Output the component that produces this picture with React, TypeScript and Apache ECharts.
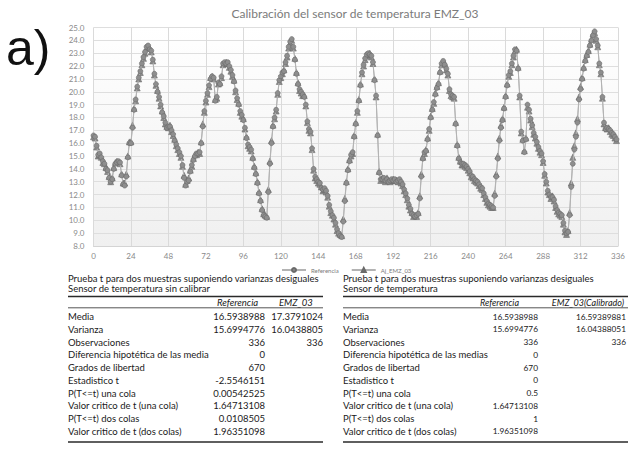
import React, { useEffect, useRef } from "react";
import * as echarts from "echarts";

// Hourly readings (h = 0 … 335)
const referencia: number[] = [
  16.6, 16.5, 15.8, 15.1, 15.2, 14.9, 14.6, 14.4, 14.0, 13.9, 13.3, 13.0, 13.2, 14.0, 14.4, 14.5, 14.6, 14.5, 13.5, 12.8, 12.7, 13.4, 14.9, 16.0,
  16.0, 17.2, 18.6, 19.4, 20.4, 21.1, 21.6, 22.2, 22.7, 23.1, 23.5, 23.6, 23.3, 23.2, 22.5, 21.4, 20.6, 20.0, 19.6, 19.0, 18.4, 18.1, 17.6, 17.2,
  17.3, 17.3, 17.0, 16.7, 16.2, 15.9, 15.6, 15.3, 15.0, 14.3, 13.3, 12.7, 13.0, 13.1, 13.8, 14.3, 14.7, 15.0, 15.2, 15.2, 15.3, 16.0, 17.3, 18.5,
  19.3, 19.9, 20.5, 21.0, 21.2, 21.1, 19.3, 19.6, 20.7, 20.6, 21.2, 22.2, 22.3, 22.2, 22.3, 22.0, 21.7, 21.3, 20.8, 20.1, 19.5, 19.0, 18.5, 18.2,
  17.8, 17.2, 16.4, 15.9, 15.7, 15.5, 14.8, 14.1, 13.6, 12.9, 12.1, 11.5, 10.8, 10.4, 10.3, 10.2, 12.2, 14.4, 16.0, 17.3, 18.0, 18.6, 19.9, 20.9,
  21.2, 21.5, 21.6, 22.3, 22.8, 23.5, 23.9, 24.1, 23.5, 22.5, 21.4, 20.6, 20.2, 20.0, 19.8, 19.6, 19.0, 17.7, 17.1, 16.9, 15.6, 14.0, 13.4, 13.2,
  13.0, 12.9, 12.5, 12.4, 12.5, 12.3, 11.9, 11.2, 10.7, 10.4, 10.2, 9.8, 9.3, 9.0, 8.8, 8.7, 9.9, 11.5, 12.9, 13.9, 14.6, 15.1, 15.3, 16.5,
  17.5, 18.5, 19.3, 20.5, 21.5, 22.1, 22.6, 22.9, 23.0, 22.9, 22.8, 22.3, 20.9, 19.7, 16.6, 13.7, 13.2, 13.2, 13.3, 13.1, 13.2, 13.0, 13.1, 13.2,
  13.1, 13.2, 13.0, 13.1, 13.2, 13.0, 12.8, 12.4, 12.1, 11.7, 11.2, 10.9, 10.5, 10.4, 10.3, 10.4, 10.5, 11.7, 13.4, 14.8, 15.3, 15.4, 16.3, 17.1,
  18.0, 18.6, 19.2, 19.8, 20.3, 20.6, 21.5, 22.2, 22.4, 22.1, 21.8, 21.4, 20.2, 19.8, 19.7, 19.6, 17.5, 15.8, 14.8, 14.5, 14.4, 14.4, 14.3, 14.2,
  14.0, 13.8, 13.5, 13.4, 13.2, 13.1, 13.0, 12.8, 12.6, 12.5, 12.1, 11.8, 11.5, 11.3, 11.2, 11.1, 11.0, 11.9, 13.4, 14.8, 16.2, 17.2, 17.8, 18.7,
  19.6, 20.5, 21.3, 21.6, 22.2, 22.8, 23.3, 23.2, 21.8, 19.7, 16.9, 16.2, 15.3, 16.3, 19.0, 18.6, 17.9, 17.4, 16.8, 16.5, 16.1, 15.7, 15.4, 15.2,
  14.6, 13.6, 13.0, 12.3, 12.0, 11.8, 11.8, 11.6, 11.1, 10.8, 10.6, 10.5, 10.4, 9.8, 9.2, 9.0, 9.1, 10.4, 12.6, 14.4, 15.5, 16.5, 17.6, 19.4,
  20.2, 21.0, 21.8, 22.4, 22.8, 23.1, 23.6, 24.0, 24.4, 24.7, 24.1, 23.6, 22.2, 21.5, 19.6, 17.6, 17.1, 17.2, 17.1, 17.0, 16.8, 16.7, 16.5, 16.3,
];

const ajEmz03: number[] = [
  16.5, 16.4, 15.7, 15.0, 15.1, 14.9, 14.5, 14.4, 14.1, 13.8, 13.4, 13.0, 13.3, 14.1, 14.5, 14.6, 14.5, 14.4, 13.6, 12.9, 12.9, 13.6, 15.0, 16.1,
  16.1, 17.4, 18.7, 19.3, 20.3, 21.0, 21.5, 22.1, 22.6, 23.0, 23.4, 23.5, 23.4, 23.1, 22.4, 21.3, 20.5, 20.1, 19.5, 18.9, 18.5, 18.0, 17.5, 17.3,
  17.2, 17.4, 16.9, 16.6, 16.3, 15.8, 15.5, 15.2, 14.9, 14.2, 13.5, 12.8, 13.1, 13.3, 13.9, 14.2, 14.8, 15.1, 15.1, 15.3, 15.2, 16.1, 17.5, 18.4,
  19.2, 19.8, 20.4, 21.1, 21.2, 21.0, 19.4, 19.5, 20.6, 20.7, 21.1, 22.1, 22.2, 22.3, 22.2, 21.9, 21.6, 21.2, 20.9, 20.0, 19.4, 19.1, 18.4, 18.1,
  17.9, 17.1, 16.5, 15.8, 15.6, 15.4, 14.9, 14.2, 13.7, 13.0, 12.2, 11.6, 10.9, 10.5, 10.4, 10.3, 12.4, 14.6, 16.2, 17.4, 17.9, 18.5, 19.8, 20.8,
  21.1, 21.4, 21.7, 22.2, 22.7, 23.4, 23.8, 24.0, 23.4, 22.6, 21.5, 20.7, 20.1, 19.9, 19.7, 19.7, 18.9, 17.6, 17.0, 16.8, 15.5, 13.9, 13.3, 13.1,
  12.9, 12.8, 12.6, 12.3, 12.4, 12.2, 11.8, 11.1, 10.6, 10.4, 10.1, 9.7, 9.2, 9.0, 8.9, 8.8, 10.1, 11.7, 13.0, 14.0, 14.7, 15.0, 15.2, 16.6,
  17.6, 18.4, 19.4, 20.6, 21.4, 22.0, 22.5, 22.8, 22.9, 23.0, 22.7, 22.2, 21.0, 19.6, 16.7, 13.8, 13.1, 13.3, 13.2, 13.0, 13.3, 13.1, 13.0, 13.1,
  13.2, 13.1, 13.1, 13.0, 13.1, 12.9, 12.7, 12.3, 12.0, 11.6, 11.1, 10.8, 10.6, 10.3, 10.4, 10.3, 10.6, 11.9, 13.6, 14.9, 15.2, 15.5, 16.4, 17.0,
  18.1, 18.7, 19.1, 19.9, 20.4, 20.7, 21.6, 22.1, 22.3, 22.2, 21.7, 21.3, 20.1, 19.7, 19.6, 19.5, 17.6, 15.9, 14.9, 14.6, 14.3, 14.3, 14.2, 14.1,
  13.9, 13.7, 13.4, 13.3, 13.1, 13.0, 12.9, 12.7, 12.5, 12.4, 12.0, 11.7, 11.4, 11.2, 11.1, 11.0, 11.0, 12.1, 13.6, 15.0, 16.4, 17.4, 17.9, 18.8,
  19.7, 20.6, 21.2, 21.5, 22.1, 22.7, 23.2, 23.3, 21.9, 19.6, 16.8, 16.3, 15.4, 16.4, 18.8, 18.5, 17.8, 17.3, 16.7, 16.4, 16.0, 15.6, 15.3, 15.1,
  14.5, 13.5, 12.9, 12.2, 12.0, 11.7, 11.9, 11.5, 11.0, 10.7, 10.5, 10.4, 10.3, 9.7, 9.1, 8.9, 9.2, 10.6, 12.9, 14.9, 15.8, 16.8, 17.9, 19.6,
  20.4, 21.1, 21.9, 22.5, 22.9, 23.2, 23.7, 24.1, 24.5, 24.6, 24.0, 23.5, 22.1, 21.4, 19.5, 17.5, 17.2, 17.1, 17.2, 16.9, 16.7, 16.6, 16.4, 16.2,
];

const seriesNames = ["Referencia", "Aj_EMZ_03"];
const chartTitle = "Calibración del sensor de temperatura EMZ_03";
const panelLabel = "a)";
const xAxisRange = { min: 0, max: 336, interval: 24 };
const yAxisRange = { min: 8, max: 25, interval: 1 };

// Tables
const tableTitle = "Prueba t para dos muestras suponiendo varianzas desiguales";
const leftSubtitle = "Sensor de temperatura sin calibrar";
const rightSubtitle = "Sensor de temperatura";
const leftHeaders = ["Referencia", "EMZ_03"];
const rightHeaders = ["Referencia", "EMZ_03(Calibrado)"];
const leftRowLabels = [
  "Media", "Varianza", "Observaciones", "Diferencia hipotética de las media", "Grados de libertad",
  "Estadistico t", "P(T<=t) una cola", "Valor critico de t (una cola)", "P(T<=t) dos colas", "Valor critico de t (dos colas)",
];
const rightRowLabels = [
  "Media", "Varianza", "Observaciones", "Diferencia hipotética de las medias", "Grados de libertad",
  "Estadistico t", "P(T<=t) una cola", "Valor critico de t (una cola)", "P(T<=t) dos colas", "Valor critico de t (dos colas)",
];
const leftRefValues = ["16.5938988", "15.6994776", "336", "0", "670", "-2.5546151", "0.00542525", "1.64713108", "0.0108505", "1.96351098"];
const leftEmzValues = ["17.3791024", "16.0438805", "336", "", "", "", "", "", "", ""];
const rightRefValues = ["16.5938988", "15.6994776", "336", "0", "670", "0", "0.5", "1.64713108", "1", "1.96351098"];
const rightEmzValues = ["16.59389881", "16.04388051", "336", "", "", "", "", "", "", ""];

const FONT = "'Liberation Sans', Arial, sans-serif";
const TFONT = "Lato, 'Liberation Sans', sans-serif";

function txt(text: string, x: number, y: number, opts: any = {}) {
  return {
    type: "text",
    x,
    y,
    silent: true,
    style: {
      text,
      fill: opts.fill || "#1a1a1a",
      fontSize: opts.fontSize || 9.5,
      fontFamily: opts.fontFamily || TFONT,
      fontStyle: opts.italic ? "italic" : "normal",
      align: opts.align || "left",
      verticalAlign: "middle",
    },
  };
}

function hline(x1: number, x2: number, y: number, w: number) {
  return {
    type: "line",
    silent: true,
    shape: { x1, y1: y, x2, y2: y },
    style: { stroke: "#2a2a2a", lineWidth: w },
  };
}

function buildTable(cfg: {
  x0: number; x1: number; c1: number; c2: number; valueSize: number; headSize: number;
  h1: { x: number; align: string }; h2: { x: number; align: string };
  subtitle: string; headers: string[]; labels: string[]; v1: string[]; v2: string[];
}) {
  const els: any[] = [];
  els.push(txt(tableTitle, cfg.x0, 278));
  els.push(txt(cfg.subtitle, cfg.x0, 288.5));
  els.push(hline(cfg.x0, cfg.x1, 296.5, 1.6));
  els.push(txt(cfg.headers[0], cfg.h1.x, 302, { italic: true, align: cfg.h1.align, fontSize: cfg.headSize }));
  els.push(txt(cfg.headers[1], cfg.h2.x, 302, { italic: true, align: cfg.h2.align, fontSize: cfg.headSize }));
  els.push(hline(cfg.x0, cfg.x1, 307.8, 0.8));
  cfg.labels.forEach((lab, i) => {
    const y = 316.5 + i * 12.75;
    els.push(txt(lab, cfg.x0, y));
    if (cfg.v1[i]) els.push(txt(cfg.v1[i], cfg.c1, y, { align: "right", fontSize: cfg.valueSize }));
    if (cfg.v2[i]) els.push(txt(cfg.v2[i], cfg.c2, y, { align: "right", fontSize: cfg.valueSize }));
  });
  els.push(hline(cfg.x0, cfg.x1, 442, 1.6));
  return els;
}

export default function App() {
  const ref = useRef<HTMLDivElement>(null);

  useEffect(() => {
    if (!ref.current) return;
    const chart = echarts.init(ref.current, null, { renderer: "svg" });

    const graphics: any[] = [
      txt(panelLabel, 6, 48, { fontSize: 50, fontFamily: FONT, fill: "#111" }),
      txt(chartTitle, 355, 13, { fontSize: 12, fontFamily: TFONT, fill: "#7b7b7b", align: "center" }),
      ...buildTable({
        x0: 68, x1: 323, c1: 265, c2: 323, valueSize: 9.5, headSize: 9.5,
        h1: { x: 217, align: "left" }, h2: { x: 279, align: "left" },
        subtitle: leftSubtitle, headers: leftHeaders, labels: leftRowLabels, v1: leftRefValues, v2: leftEmzValues,
      }),
      ...buildTable({
        x0: 343, x1: 630, c1: 538, c2: 626, valueSize: 8.3, headSize: 9,
        h1: { x: 519, align: "right" }, h2: { x: 624, align: "right" },
        subtitle: rightSubtitle, headers: rightHeaders, labels: rightRowLabels, v1: rightRefValues, v2: rightEmzValues,
      }),
    ];

    const markerStyle = { color: "#8e8e8e", borderColor: "#6a6a6a", borderWidth: 0.6 };

    chart.setOption({
      animation: false,
      backgroundColor: "#ffffff",
      textStyle: { fontFamily: FONT },
      grid: {
        left: 93.5,
        right: 3,
        top: 27.5,
        height: 218.5,
        show: true,
        borderWidth: 0,
        backgroundColor: new echarts.graphic.LinearGradient(0, 0, 0, 1, [
          { offset: 0, color: "#ffffff" },
          { offset: 1, color: "#f0f0f0" },
        ]),
      },
      xAxis: {
        type: "value",
        min: xAxisRange.min,
        max: xAxisRange.max,
        interval: xAxisRange.interval,
        axisLine: { show: true, lineStyle: { color: "#d4d4d4" } },
        axisTick: { show: false },
        axisLabel: { color: "#8a8a8a", fontSize: 8, margin: 6, fontFamily: TFONT },
        splitLine: { show: true, lineStyle: { color: "#dadada", width: 1 } },
      },
      yAxis: {
        type: "value",
        min: yAxisRange.min,
        max: yAxisRange.max,
        interval: yAxisRange.interval,
        axisLine: { show: false },
        axisTick: { show: false },
        axisLabel: {
          color: "#8a8a8a",
          fontSize: 8,
          margin: 9,
          fontFamily: TFONT,
          formatter: (v: number) => v.toFixed(1),
        },
        splitLine: { show: true, lineStyle: { color: "#dedede", width: 1 } },
      },
      legend: {
        data: seriesNames,
        left: 276,
        top: 262,
        itemWidth: 24,
        itemHeight: 5,
        itemGap: 12,
        textStyle: { fontSize: 6, color: "#7a7a7a", fontFamily: TFONT },
      },
      graphic: graphics,
      series: [
        {
          name: seriesNames[1],
          type: "line",
          data: ajEmz03.map((v, i) => [i, v]),
          symbol: "triangle",
          symbolSize: 6,
          showAllSymbol: true,
          lineStyle: { color: "#b3b3b3", width: 1 },
          itemStyle: markerStyle,
          z: 2,
        },
        {
          name: seriesNames[0],
          type: "line",
          data: referencia.map((v, i) => [i, v]),
          symbol: "circle",
          symbolSize: 5,
          showAllSymbol: true,
          lineStyle: { color: "#b3b3b3", width: 1 },
          itemStyle: markerStyle,
          z: 3,
        },
      ],
    });

    return () => chart.dispose();
  }, []);

  return (
    <div
      ref={ref}
      style={{ position: "absolute", left: 0, top: 0, width: 628, height: 453, background: "#fff" }}
    />
  );
}
